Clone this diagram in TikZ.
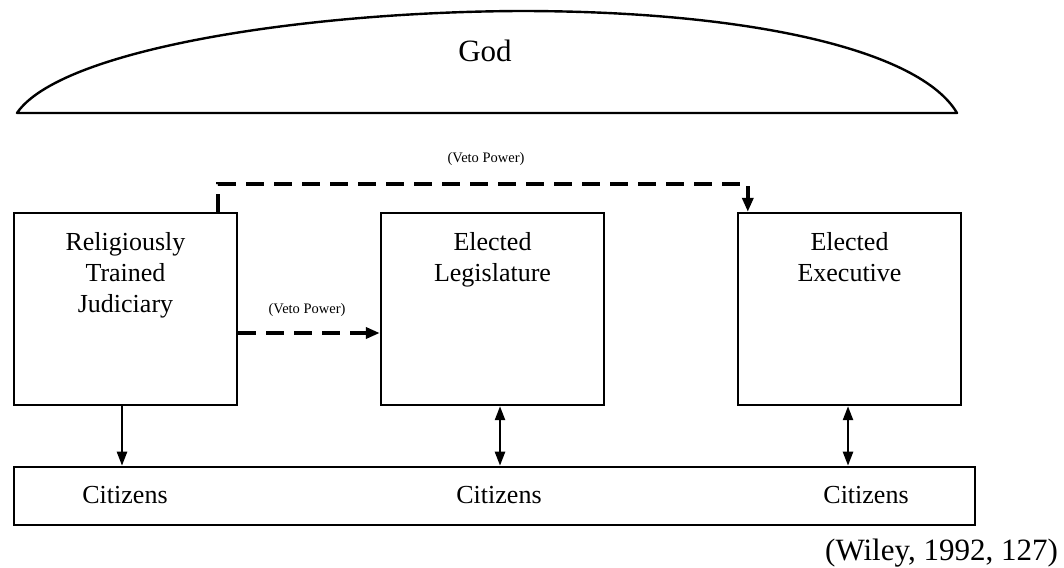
\documentclass[tikz,border=0pt]{standalone}
\usepackage{fontspec}
\setmainfont{Liberation Serif}
\usetikzlibrary{arrows.meta,calc}
\begin{document}
\begin{tikzpicture}[x=1pt,y=-1pt,
  box/.style={draw,line width=2.4pt,inner sep=0pt,minimum width=223pt,minimum height=192pt},
  boxtext/.style={anchor=north,align=center,inner sep=0pt,font=\fontsize{26}{31}\selectfont},
  citbox/.style={draw,line width=2.6pt,inner sep=0pt,minimum width=961pt,minimum height=58pt},
  cittext/.style={anchor=base,inner sep=0pt,font=\fontsize{26}{31}\selectfont},
  vetotext/.style={anchor=base,inner sep=0pt,font=\fontsize{14.5}{17}\selectfont},
  solidarr/.style={line width=2.4pt,-{Triangle[length=14pt,width=10pt]}},
  dblarr/.style={line width=2.4pt,{Triangle[length=14pt,width=10pt]}-{Triangle[length=14pt,width=10pt]}},
  dasharr/.style={line width=3.6pt,dash pattern=on 18pt off 10pt,-{Triangle[length=14pt,width=11pt]}}
]
\useasboundingbox (0,0) rectangle (1064,567);
% God dome
\draw[line width=2.4pt,line join=round] (17,113) -- (957,113)
  .. controls (920,50) and (750,11) .. (520,11)
  .. controls (300,12) and (60,50) .. (17,113) -- cycle;
\node[anchor=base,inner sep=0pt,font=\fontsize{31}{36}\selectfont] (god) at (485,62) {God};
% boxes
\node[box] (jud) at (125.5,309) {};
\node[box] (leg) at (492.5,309) {};
\node[box] (exec) at (849.5,309) {};
\node[boxtext] (judt) at (125.5,232) {Religiously\\Trained\\Judiciary};
\node[boxtext] (legt) at (492.5,232) {Elected\\Legislature};
\node[boxtext] (exect) at (849.5,232) {Elected\\Executive};
% citizens
\node[citbox] (cit) at (494.5,496) {};
\node[cittext] (c1) at (125,503) {Citizens};
\node[cittext] (c2) at (499,503) {Citizens};
\node[cittext] (c3) at (866,503) {Citizens};
% source
\node[anchor=base east,inner sep=0pt,font=\fontsize{31}{36}\selectfont] (src) at (1058,560) {(Wiley, 1992, 127)};
% vertical arrows
\coordinate (ja) at ($(jud.south)+(-3.5,0)$);
\coordinate (la) at ($(leg.south)+(7.5,0)$);
\coordinate (ea) at ($(exec.south)+(-1.5,0)$);
\draw[solidarr] (ja) -- (ja |- cit.north);
\draw[dblarr] (la) -- (la |- cit.north);
\draw[dblarr] (ea) -- (ea |- cit.north);
% veto arrows
\coordinate (vs) at ($(jud.north)+(92.5,0)$);
\coordinate (ve) at ($(exec.north west)+(11,0)$);
\draw[dasharr] (vs) -- ++(0,-28) -| (ve);
\node[vetotext] (veto1) at (486,162) {(Veto Power)};
\draw[dasharr] ($(jud.east)+(0,24)$) -- ($(leg.west)+(0,24)$);
\node[vetotext] (veto2) at (307,313) {(Veto Power)};
\end{tikzpicture}
\end{document}
